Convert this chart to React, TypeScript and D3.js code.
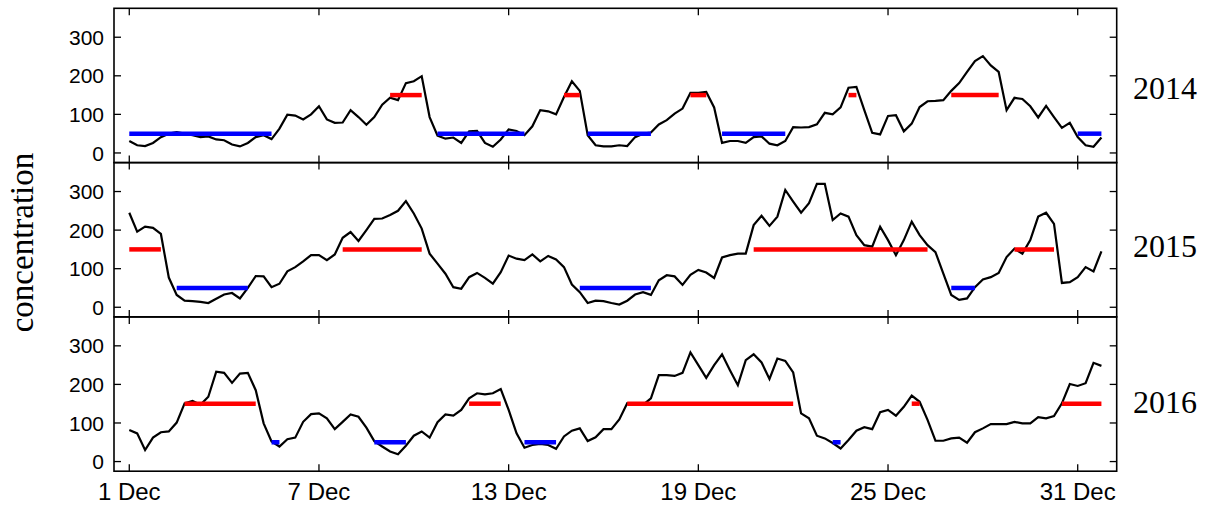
import React from "react";
import * as d3 from "d3";

// concentration every 6 hours, 1 Dec 00:00 .. 31 Dec 18:00 (124 values)
const conc2014 = [
  31, 20, 18, 26, 41, 50, 54, 50, 46, 41,
  43, 35, 33, 22, 17, 26, 41, 46, 36, 63,
  99, 97, 87, 100, 121, 87, 78, 79, 111, 93,
  73, 93, 125, 143, 137, 181, 186, 199, 93, 45,
  37, 40, 26, 56, 57, 26, 16, 35, 61, 57,
  46, 69, 111, 108, 100, 145, 186, 161, 46, 20,
  17, 17, 20, 18, 41, 50, 53, 74, 85, 102,
  115, 156, 156, 158, 118, 26, 31, 31, 26, 41,
  43, 24, 20, 31, 67, 66, 67, 74, 104, 100,
  118, 169, 171, 111, 52, 48, 96, 98, 56, 76,
  119, 134, 135, 137, 161, 181, 210, 238, 251, 227,
  210, 111, 143, 140, 121, 92, 122, 93, 65, 78,
  41, 20, 16, 40,
];
const conc2015 = [
  245, 196, 209, 206, 190, 77, 32, 17, 16, 14,
  11, 22, 33, 37, 23, 50, 81, 80, 52, 61,
  93, 104, 119, 135, 135, 122, 137, 180, 195, 172,
  200, 229, 230, 239, 250, 275, 243, 204, 139, 113,
  87, 52, 48, 78, 89, 76, 61, 91, 134, 126,
  122, 137, 119, 133, 124, 104, 59, 39, 11, 17,
  16, 11, 7, 17, 33, 39, 32, 70, 83, 80,
  58, 84, 97, 90, 76, 129, 135, 139, 139, 213,
  237, 211, 235, 304, 274, 245, 270, 320, 320, 226,
  243, 235, 187, 161, 157, 209, 174, 135, 174, 222,
  187, 161, 143, 87, 32, 19, 23, 52, 72, 78,
  89, 130, 152, 139, 174, 235, 245, 216, 63, 65,
  78, 104, 93, 145,
];
const conc2016 = [
  82, 73, 30, 62, 76, 78, 101, 151, 157, 147,
  168, 233, 230, 204, 228, 230, 185, 99, 52, 39,
  58, 62, 103, 123, 125, 112, 84, 103, 122, 116,
  88, 53, 39, 26, 19, 41, 67, 78, 62, 102,
  122, 119, 134, 164, 177, 174, 177, 188, 134, 73,
  36, 43, 46, 43, 33, 65, 80, 86, 53, 63,
  84, 84, 109, 151, 147, 147, 164, 224, 224, 222,
  230, 283, 250, 217, 250, 278, 237, 198, 263, 278,
  257, 214, 267, 261, 231, 125, 112, 67, 60, 48,
  34, 56, 80, 89, 84, 128, 134, 119, 142, 171,
  155, 108, 54, 54, 60, 62, 49, 76, 86, 97,
  97, 97, 103, 99, 99, 115, 112, 118, 151, 201,
  196, 203, 256, 248,
];

// episodes as [first step, last step]
const high2014 = [[33, 37], [55, 57], [71, 73], [91, 92], [104, 110]];
const low2014 = [[0, 18], [39, 50], [58, 66], [75, 83], [120, 123]];
const high2015 = [[0, 4], [27, 37], [79, 101], [112, 117]];
const low2015 = [[6, 15], [57, 66], [104, 107]];
const high2016 = [[7, 16], [43, 47], [63, 84], [99, 100], [118, 123]];
const low2016 = [[18, 19], [31, 35], [50, 54], [89, 90]];

const years = ["2014", "2015", "2016"];
const yTicks = [0, 100, 200, 300];
const xTickDays = [1, 7, 13, 19, 25, 31];
const HIGH = 150;
const LOW = 50;

const panels = [
  { year: years[0], values: conc2014, high: high2014, low: low2014 },
  { year: years[1], values: conc2015, high: high2015, low: low2015 },
  { year: years[2], values: conc2016, high: high2016, low: low2016 },
];

const W = 1212;
const H = 508;
const left = 114;
const right = 1116.7;
const top0 = 8.3;
const panelH = 154.3;
const tick = 7;
const yearBase = [99, 257, 413];

const sans = "'Liberation Sans', Arial, Helvetica, sans-serif";
const serif = "'Liberation Serif', 'Times New Roman', serif";

const START = new Date(2014, 11, 1);
const hours = (h: number) => new Date(START.getTime() + h * 3600 * 1000);
const stepDate = (i: number) => hours(6 * i);

export default function App() {
  const x = d3
    .scaleTime()
    .domain([hours(-11.6), hours(30 * 24 + 29.6)])
    .range([left, right]);
  const fmt = d3.timeFormat("%-d %b");
  const xTicks = xTickDays.map((d) => new Date(2014, 11, d));

  return (
    <svg
      width={W}
      height={H}
      style={{ position: "absolute", left: 0, top: 0, background: "#fff" }}
    >
      {panels.map((p, k) => {
        const top = top0 + k * panelH;
        const y = d3.scaleLinear().domain([-25, 375]).range([top + panelH, top]);
        const line = d3
          .line<number>()
          .x((d, i) => x(stepDate(i)))
          .y((d) => y(d));
        return (
          <g key={p.year}>
            <path d={line(p.values) || ""} fill="none" stroke="#000" strokeWidth={2.2} />
            {p.high.map(([a, b], j) => (
              <line key={"h" + j} x1={x(stepDate(a))} x2={x(stepDate(b))} y1={y(HIGH)} y2={y(HIGH)} stroke="#ff0000" strokeWidth={4.5} />
            ))}
            {p.low.map(([a, b], j) => (
              <line key={"l" + j} x1={x(stepDate(a))} x2={x(stepDate(b))} y1={y(LOW)} y2={y(LOW)} stroke="#0000ff" strokeWidth={4.5} />
            ))}
            <rect x={left} y={top} width={right - left} height={panelH} fill="none" stroke="#000" strokeWidth={1.6} />
            {yTicks.map((t) => (
              <g key={t}>
                <line x1={left} x2={left + tick} y1={y(t)} y2={y(t)} stroke="#000" strokeWidth={1.3} />
                <line x1={right} x2={right - tick} y1={y(t)} y2={y(t)} stroke="#000" strokeWidth={1.3} />
                <text x={left - 10} y={y(t)} dy="0.36em" textAnchor="end" fontFamily={sans} fontSize={21} fill="#000">
                  {t}
                </text>
              </g>
            ))}
            {xTicks.map((t, j) => (
              <g key={j}>
                <line x1={x(t)} x2={x(t)} y1={top} y2={top + tick} stroke="#000" strokeWidth={1.3} />
                <line x1={x(t)} x2={x(t)} y1={top + panelH} y2={top + panelH - tick} stroke="#000" strokeWidth={1.3} />
              </g>
            ))}
            <text x={1133} y={yearBase[k]} fontFamily={serif} fontSize={32} fill="#000">
              {p.year}
            </text>
          </g>
        );
      })}
      {xTicks.map((t, j) => (
        <text key={j} x={x(t)} y={500} textAnchor="middle" fontFamily={sans} fontSize={24} fill="#000">
          {fmt(t)}
        </text>
      ))}
      <text
        transform="translate(33,242.5) rotate(-90)"
        textAnchor="middle"
        fontFamily={serif}
        fontSize={33}
        fill="#000"
      >
        concentration
      </text>
    </svg>
  );
}
